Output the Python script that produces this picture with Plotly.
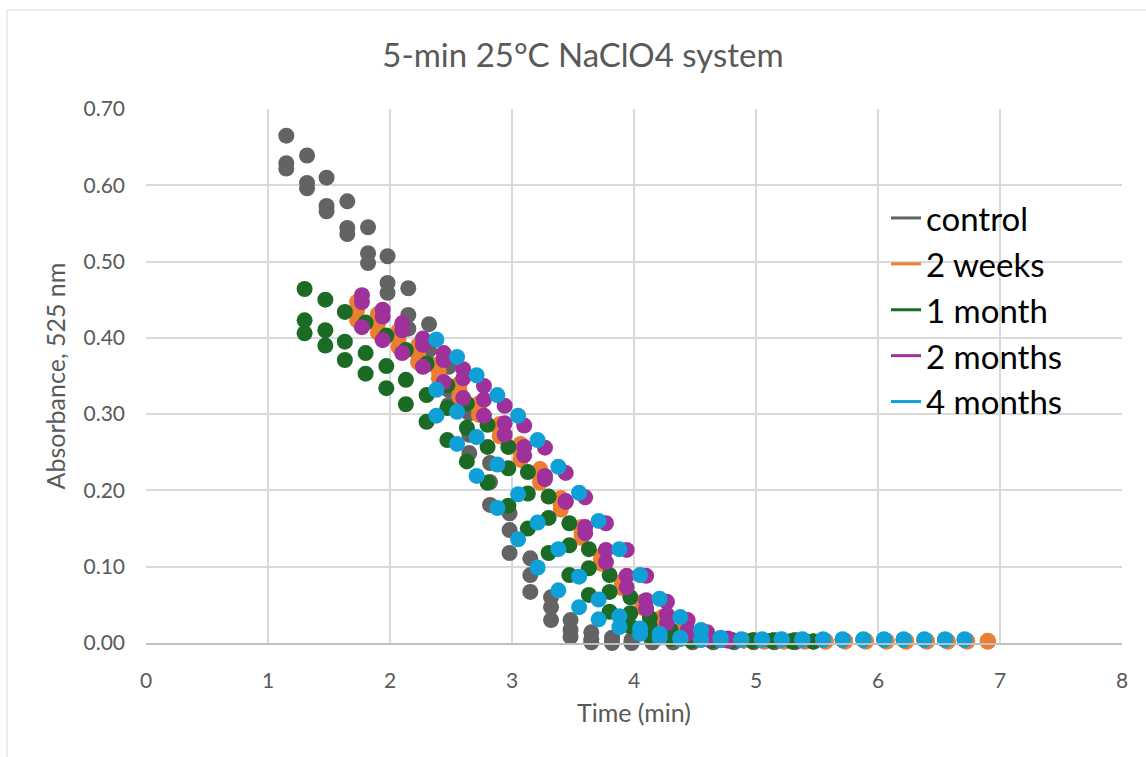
import plotly.graph_objects as go

# ---------------- data ----------------
series_names = ["control", "2 weeks", "1 month", "2 months", "4 months"]
series_colors = ["#636363", "#ED7D31", "#1B6B24", "#A0309A", "#10A0D8"]

control_t = [1.15, 1.32, 1.48, 1.65, 1.82, 1.98, 2.15, 2.32, 2.48, 2.65, 2.82, 2.98, 3.15,
             3.32, 3.48, 3.65, 3.82, 3.98, 4.15, 4.32, 4.48, 4.65, 4.82, 4.98, 5.15, 5.32]
control_r1 = [0.665, 0.639, 0.610, 0.579, 0.545, 0.507, 0.465, 0.418, 0.362, 0.301, 0.236, 0.170, 0.111,
              0.060, 0.030, 0.014, 0.007, 0.004, 0.003, 0.003, 0.003, 0.003, 0.003, 0.004, 0.004, 0.004]
control_r2 = [0.629, 0.603, 0.573, 0.544, 0.511, 0.472, 0.430, 0.384, 0.332, 0.273, 0.211, 0.148, 0.089,
              0.047, 0.017, 0.005, 0.002, 0.001, 0.001, 0.001, 0.002, 0.002, 0.002, 0.002, 0.002, 0.002]
control_r3 = [0.622, 0.596, 0.566, 0.536, 0.498, 0.459, 0.412, 0.366, 0.312, 0.249, 0.181, 0.118, 0.067,
              0.030, 0.008, 0.001, 0.000, 0.000, 0.001, 0.001, 0.001, 0.001, 0.001, 0.001, 0.001, 0.001]

weeks2_t = [1.73, 1.90, 2.07, 2.23, 2.40, 2.57, 2.73, 2.90, 3.07, 3.23, 3.40, 3.57, 3.73, 3.90, 4.07, 4.23,
            4.40, 4.57, 4.73, 4.90, 5.07, 5.23, 5.40, 5.57, 5.73, 5.90, 6.07, 6.23, 6.40, 6.57, 6.73, 6.90]
weeks2_r1 = [0.447, 0.431, 0.409, 0.390, 0.366, 0.340, 0.314, 0.287, 0.261, 0.228, 0.190, 0.152, 0.114, 0.080,
             0.054, 0.034, 0.018, 0.009, 0.005, 0.004, 0.003, 0.003, 0.003, 0.003, 0.003, 0.003, 0.003, 0.003,
             0.003, 0.003, 0.003, 0.003]
weeks2_r2 = [0.423, 0.407, 0.388, 0.368, 0.347, 0.323, 0.299, 0.271, 0.240, 0.210, 0.175, 0.138, 0.104, 0.072,
             0.046, 0.027, 0.013, 0.006, 0.004, 0.003, 0.002, 0.002, 0.002, 0.002, 0.002, 0.002, 0.002, 0.002,
             0.002, 0.002, 0.002, 0.002]
weeks2_r3 = [0.436, 0.418, 0.398, 0.378, 0.356, 0.331, 0.306, 0.279, 0.250, 0.218, 0.182, 0.145, 0.109, 0.076,
             0.050, 0.030, 0.015, 0.007, 0.004, 0.003, 0.002, 0.002, 0.002, 0.002, 0.002, 0.002, 0.002, 0.002,
             0.002, 0.002, 0.002, 0.002]

month1_t = [1.30, 1.47, 1.63, 1.80, 1.97, 2.13, 2.30, 2.47, 2.63, 2.80, 2.97, 3.13, 3.30,
            3.47, 3.63, 3.80, 3.97, 4.13, 4.30, 4.47, 4.63, 4.80, 4.97, 5.13, 5.30, 5.47]
month1_r1 = [0.464, 0.450, 0.434, 0.420, 0.403, 0.384, 0.366, 0.338, 0.314, 0.286, 0.257, 0.224, 0.192,
             0.157, 0.123, 0.089, 0.060, 0.033, 0.017, 0.009, 0.005, 0.004, 0.003, 0.003, 0.003, 0.002]
month1_r2 = [0.423, 0.410, 0.395, 0.380, 0.363, 0.345, 0.325, 0.308, 0.282, 0.257, 0.229, 0.196, 0.164,
             0.128, 0.098, 0.067, 0.039, 0.022, 0.010, 0.005, 0.004, 0.003, 0.003, 0.003, 0.002, 0.002]
month1_r3 = [0.406, 0.390, 0.371, 0.353, 0.334, 0.313, 0.290, 0.266, 0.238, 0.210, 0.180, 0.150, 0.118,
             0.089, 0.063, 0.041, 0.022, 0.010, 0.005, 0.003, 0.003, 0.003, 0.003, 0.003, 0.002, 0.002]

months2_t = [1.77, 1.94, 2.10, 2.27, 2.44, 2.60, 2.77, 2.94, 3.10, 3.27, 3.44, 3.60, 3.77, 3.94, 4.10,
             4.27, 4.44, 4.60, 4.77]
months2_r1 = [0.456, 0.437, 0.419, 0.399, 0.380, 0.359, 0.337, 0.311, 0.285, 0.256, 0.223, 0.191, 0.157,
              0.122, 0.088, 0.054, 0.030, 0.014, 0.006]
months2_r2 = [0.447, 0.428, 0.410, 0.391, 0.371, 0.347, 0.319, 0.288, 0.257, 0.219, 0.186, 0.152, 0.122,
              0.088, 0.056, 0.037, 0.017, 0.008, 0.004]
months2_r3 = [0.414, 0.397, 0.380, 0.362, 0.342, 0.321, 0.298, 0.273, 0.246, 0.215, 0.185, 0.144, 0.106,
              0.073, 0.045, 0.026, 0.012, 0.005, 0.003]

months4_t = [2.38, 2.55, 2.71, 2.88, 3.05, 3.21, 3.38, 3.55, 3.71, 3.88, 4.05, 4.21, 4.38, 4.55,
             4.71, 4.88, 5.05, 5.21, 5.38, 5.55, 5.71, 5.88, 6.05, 6.21, 6.38, 6.55, 6.71]
months4_r1 = [0.398, 0.375, 0.351, 0.325, 0.298, 0.266, 0.231, 0.197, 0.160, 0.123, 0.089, 0.058, 0.034,
              0.017, 0.007, 0.005, 0.005, 0.005, 0.005, 0.005, 0.005, 0.005, 0.005, 0.005, 0.005, 0.005, 0.005]
months4_r2 = [0.332, 0.303, 0.270, 0.234, 0.195, 0.158, 0.123, 0.087, 0.057, 0.035, 0.019, 0.012, 0.007,
              0.004, 0.004, 0.004, 0.004, 0.004, 0.004, 0.004, 0.004, 0.004, 0.004, 0.004, 0.004, 0.004, 0.004]
months4_r3 = [0.298, 0.261, 0.219, 0.177, 0.136, 0.099, 0.069, 0.047, 0.031, 0.021, 0.012, 0.007, 0.005,
              0.004, 0.004, 0.004, 0.004, 0.004, 0.004, 0.004, 0.004, 0.004, 0.004, 0.004, 0.004, 0.004, 0.004]

x_ticks = [0, 1, 2, 3, 4, 5, 6, 7, 8]
y_ticks = [0.0, 0.1, 0.2, 0.3, 0.4, 0.5, 0.6, 0.7]

series_data = [
    (control_t, [control_r1, control_r2, control_r3]),
    (weeks2_t, [weeks2_r1, weeks2_r2, weeks2_r3]),
    (month1_t, [month1_r1, month1_r2, month1_r3]),
    (months2_t, [months2_r1, months2_r2, months2_r3]),
    (months4_t, [months4_r1, months4_r2, months4_r3]),
]

FONT = "Lato"
GREY_TXT = "#595959"
GRID = "#d9d9d9"

fig = go.Figure()

for name, color, (t, reps) in zip(series_names, series_colors, series_data):
    xs, ys = [], []
    for r in reps:
        xs += t
        ys += r
    fig.add_trace(go.Scatter(
        x=xs, y=ys, mode="markers", name=name, legendgroup=name, showlegend=False,
        marker=dict(size=16, color=color, line=dict(width=0)), cliponaxis=False,
    ))

for name, color in zip(series_names, series_colors):
    fig.add_trace(go.Scatter(
        x=[None], y=[None], mode="lines", name=name, legendgroup=name,
        line=dict(color=color, width=3),
    ))

fig.update_layout(
    width=1146, height=757,
    margin=dict(l=146, r=24, t=109, b=114),
    paper_bgcolor="white", plot_bgcolor="white",
    font=dict(family=FONT, color=GREY_TXT),
    title=dict(text="5-min 25°C NaClO4 system", font=dict(family=FONT, size=33, color=GREY_TXT),
               x=583 / 1146, xanchor="center", xref="container",
               y=1 - 55 / 757, yanchor="middle", yref="container"),
    showlegend=True,
    legend=dict(x=(886 - 146) / 976, xanchor="left", y=(643 - 190) / 534, yanchor="top",
                font=dict(family=FONT, size=33, color="#000000"),
                bgcolor="rgba(0,0,0,0)", traceorder="grouped", tracegroupgap=0,
                itemwidth=30),
    xaxis=dict(range=[0, 8], tickvals=x_ticks, ticktext=[str(v) for v in x_ticks],
               showgrid=True, gridcolor=GRID, gridwidth=1.5, zeroline=False,
               showline=True, linecolor="#bfbfbf", linewidth=1.5,
               ticks="", tickfont=dict(family=FONT, size=21, color=GREY_TXT),
               ticklabelstandoff=18,
               title=dict(text="Time (min)", font=dict(family=FONT, size=25, color=GREY_TXT), standoff=14)),
    yaxis=dict(range=[0, 0.70], tickvals=y_ticks, ticktext=[f"{v:.2f}" for v in y_ticks],
               showgrid=True, gridcolor=GRID, gridwidth=1.5, zeroline=False,
               showline=False, ticks="", tickfont=dict(family=FONT, size=21, color=GREY_TXT),
               ticklabelstandoff=20,
               title=dict(text="Absorbance, 525 nm", font=dict(family=FONT, size=25, color=GREY_TXT), standoff=10)),
    shapes=[
        dict(type="line", xref="paper", yref="paper", x0=(7 - 146) / 976, x1=(1146 - 146) / 976,
             y0=(643 - 10) / 534, y1=(643 - 10) / 534, line=dict(color=GRID, width=1)),
        dict(type="line", xref="paper", yref="paper", x0=(7 - 146) / 976, x1=(7 - 146) / 976,
             y0=(643 - 10) / 534, y1=(643 - 757) / 534, line=dict(color=GRID, width=1)),
    ],
)

fig.write_html("out.html")
